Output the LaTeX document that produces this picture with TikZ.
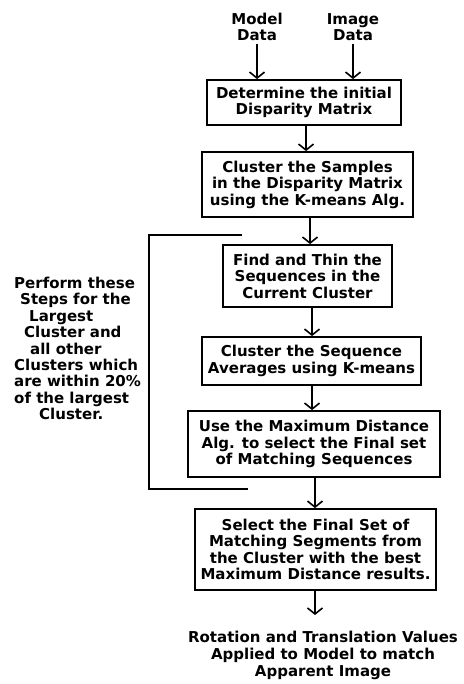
\documentclass[tikz,border=0pt]{standalone}
\usepackage{fontspec}
\setmainfont{DejaVu Sans}
\usetikzlibrary{arrows.meta}
\begin{document}
\begin{tikzpicture}[x=1pt,y=-1pt,
  every node/.style={font=\bfseries\fontsize{15}{16.5}\selectfont, inner sep=0pt, align=center},
  stepbox/.style={draw, line width=1.8pt, minimum width=#1},
  arr/.style={line width=1.6pt, -{Straight Barb[length=6pt,width=15pt,line width=1.6pt]}},
  bracket/.style={line width=1.8pt}]
\useasboundingbox (0,0) rectangle (463,684);
\node (md) at (257,27) {Model\\Data};
\node (id) at (353,27) {Image\\Data};
\node[stepbox=194pt, minimum height=45pt] (b1) at (304,102.5) {Determine the initial\\Disparity Matrix};
\node[stepbox=211pt, minimum height=65pt] (b2) at (307.5,184.5) {Cluster the Samples\\in the Disparity Matrix\\using the K-means Alg.};
\node[stepbox=169pt, minimum height=62pt] (b3) at (307.5,276) {Find and Thin the\\Sequences in the\\Current Cluster};
\node[stepbox=219pt, minimum height=48pt] (b4) at (311.5,361) {Cluster the Sequence\\Averages using K-means};
\node[stepbox=252pt, minimum height=66pt] (b5) at (314,444) {Use the Maximum Distance\\Alg. to select the Final set\\of Matching Sequences};
\node[stepbox=241pt, minimum height=81pt] (b6) at (315.5,549.5) {Select the Final Set of\\Matching Segments from\\the Cluster with the best\\Maximum Distance results.};
\node[font=\bfseries\fontsize{15}{17}\selectfont] (out) at (323,655) {Rotation and Translation Values\\Applied to Model to match\\Apparent Image};
\node[anchor=west, align=left, font=\bfseries\fontsize{15}{16.4}\selectfont] (note) at (14,348.5)
  {Perform these\\\hspace*{6pt}Steps for the\\\hspace*{15pt}Largest\\\hspace*{10pt}Cluster and\\\hspace*{16pt}all other\\Clusters which\\are within 20\%\\of the largest\\\hspace*{25pt}Cluster.};
\coordinate (lt) at (242,235);
\coordinate (lb) at (248,489);
\coordinate (a6) at (315,615);
\draw[bracket] (lt) -- (149,235) -- (149,489) -- (lb);
\draw[arr] ([yshift=-3pt]md.south) -- (md.south |- b1.north);
\draw[arr] ([yshift=-3pt]id.south) -- (id.south |- b1.north);
\draw[arr] ([xshift=2pt]b1.south) -- ([xshift=2pt]b1.south |- b2.north);
\draw[arr] ([xshift=2.5pt]b2.south) -- ([xshift=2.5pt]b2.south |- b3.north);
\draw[arr] ([xshift=4.5pt]b3.south) -- ([xshift=4.5pt]b3.south |- b4.north);
\draw[arr] ([xshift=0.5pt]b4.south) -- ([xshift=0.5pt]b4.south |- b5.north);
\draw[arr] ([xshift=1pt]b5.south) -- ([xshift=1pt]b5.south |- b6.north);
\draw[arr] (b6.south -| a6) -- (a6);
\end{tikzpicture}
\end{document}
